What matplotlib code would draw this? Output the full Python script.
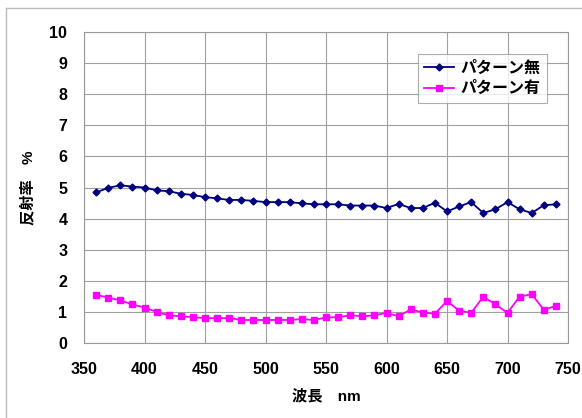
import matplotlib
matplotlib.use('Agg')
import matplotlib.pyplot as plt
from matplotlib.lines import Line2D

plt.rcParams['font.family'] = ['Liberation Sans', 'Noto Sans CJK JP', 'DejaVu Sans']

# wavelength (nm)
wavelength = list(range(360, 750, 10))

# reflectance (%) without pattern
refl_plain = [4.84, 4.99, 5.07, 5.03, 5.00, 4.91, 4.88, 4.80, 4.76, 4.69,
              4.65, 4.60, 4.60, 4.57, 4.53, 4.53, 4.53, 4.49, 4.46, 4.46,
              4.46, 4.42, 4.42, 4.42, 4.34, 4.47, 4.34, 4.34, 4.51, 4.23,
              4.39, 4.53, 4.18, 4.30, 4.53, 4.30, 4.18, 4.43, 4.46]

# reflectance (%) with pattern
refl_pattern = [1.55, 1.46, 1.37, 1.24, 1.14, 1.00, 0.89, 0.86, 0.83, 0.80,
                0.80, 0.80, 0.74, 0.74, 0.74, 0.74, 0.74, 0.77, 0.74, 0.82,
                0.83, 0.89, 0.86, 0.89, 0.97, 0.86, 1.08, 0.98, 0.94, 1.35,
                1.04, 0.97, 1.49, 1.24, 0.97, 1.49, 1.57, 1.07, 1.19]

labels = ['パターン無', 'パターン有']

fig = plt.figure(figsize=(5.82, 4.18), dpi=100)
ax = fig.add_axes([84 / 582, 1 - 343 / 418, 484 / 582, 311 / 418])

ax.plot(wavelength, refl_plain, color='#000080', marker='D', markersize=3.5,
        linewidth=1.3, label=labels[0])
ax.plot(wavelength, refl_pattern, color='#ff00ff', marker='s', markersize=4.5,
        linewidth=1.3, label=labels[1])

ax.set_xlim(350, 750)
ax.set_ylim(0, 10)
ax.set_xticks(range(350, 751, 50))
ax.set_yticks(range(0, 11))
ax.grid(True, color='#a0a0a0', linewidth=0.8)
ax.set_axisbelow(True)
for sp in ax.spines.values():
    sp.set_color('#999999')
ax.tick_params(length=0, labelsize=11.5)
ax.tick_params(axis='x', pad=14)
ax.tick_params(axis='y', pad=12)
for t in ax.get_xticklabels() + ax.get_yticklabels():
    t.set_fontweight('bold')

ax.set_xlabel('波長　nm', fontsize=11, fontweight='bold', labelpad=8)
ax.set_ylabel('反射率　%', fontsize=11, fontweight='bold', labelpad=10)

leg = ax.legend(loc='upper right', bbox_to_anchor=(0.957, 0.929), borderaxespad=0,
                fontsize=11.5, frameon=True, fancybox=False, edgecolor='#999999',
                handlelength=1.9, handletextpad=0.4, borderpad=0.4,
                labelspacing=0.35)
leg.get_frame().set_linewidth(0.8)
for t in leg.get_texts():
    t.set_fontweight('bold')

# outer chart border (left and top edges visible)
fig.add_artist(Line2D([6 / 582, 6 / 582], [0, 1 - 8 / 418],
                      transform=fig.transFigure, color='#bbbbbb', linewidth=1))
fig.add_artist(Line2D([6 / 582, 1], [1 - 8 / 418, 1 - 8 / 418],
                      transform=fig.transFigure, color='#bbbbbb', linewidth=1))

fig.savefig('out.png', dpi=100)
